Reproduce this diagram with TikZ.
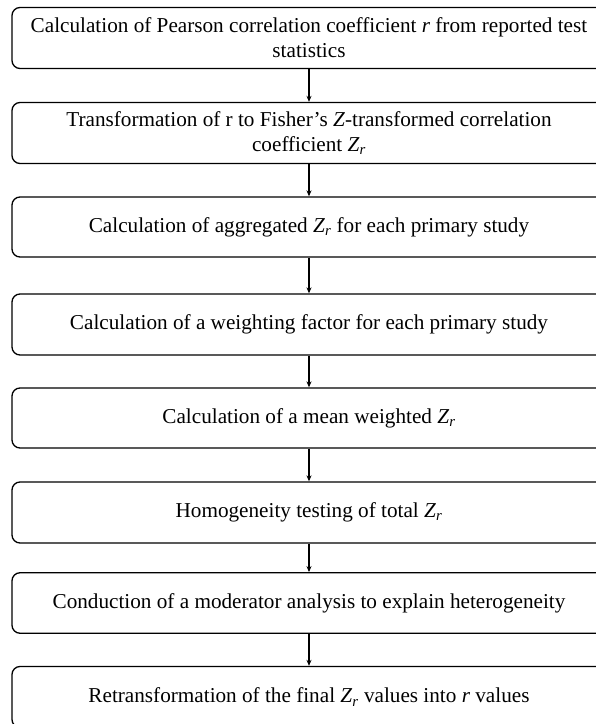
\documentclass[tikz,border=0pt]{standalone}
\usepackage{fontspec}
\setmainfont{Liberation Serif}
\usetikzlibrary{arrows.meta}
\newcommand{\Zr}{\textit{Z}\textsubscript{\textit{r}}}
\newcommand{\tightwords}{\spaceskip=5.3pt\relax}
\begin{document}
\begin{tikzpicture}[x=1pt,y=1pt,
  stepbox/.style={draw=black, line width=1.3pt, rounded corners=8pt, minimum width=594pt, text width=580pt, align=center, inner sep=0pt, font=\fontsize{21.2}{25}\selectfont, execute at begin node={\tightwords}},
  flow/.style={-{Stealth[length=6pt,width=5pt]}, line width=1.1pt}]
\useasboundingbox (0,0) rectangle (596,724);
\fill[white] (0,0) rectangle (596,724);
\node[stepbox, minimum height=61pt] (b1) at (309,686) {Calculation of Pearson correlation coefficient \textit{r} from reported test\\statistics};
\node[stepbox, minimum height=61pt] (b2) at (309,591) {Transformation of r to Fisher’s \textit{Z}-transformed correlation\\coefficient \Zr};
\node[stepbox, minimum height=60pt] (b3) at (309,497) {Calculation of aggregated \Zr{} for each primary study};
\node[stepbox, minimum height=61pt] (b4) at (309,399.5) {Calculation of a weighting factor for each primary study};
\node[stepbox, minimum height=60pt] (b5) at (309,306) {Calculation of a mean weighted \Zr};
\node[stepbox, minimum height=61pt] (b6) at (309,211.5) {Homogeneity testing of total \Zr};
\node[stepbox, minimum height=60.5pt] (b7) at (309,121) {Conduction of a moderator analysis to explain heterogeneity};
\node[stepbox, minimum height=61pt] (b8) at (309,27) {Retransformation of the final \Zr{} values into \textit{r} values};
\foreach \a/\b in {b1/b2,b2/b3,b3/b4,b4/b5,b5/b6,b6/b7,b7/b8}
  \draw[flow] (\a) -- (\b);
\end{tikzpicture}
\end{document}
